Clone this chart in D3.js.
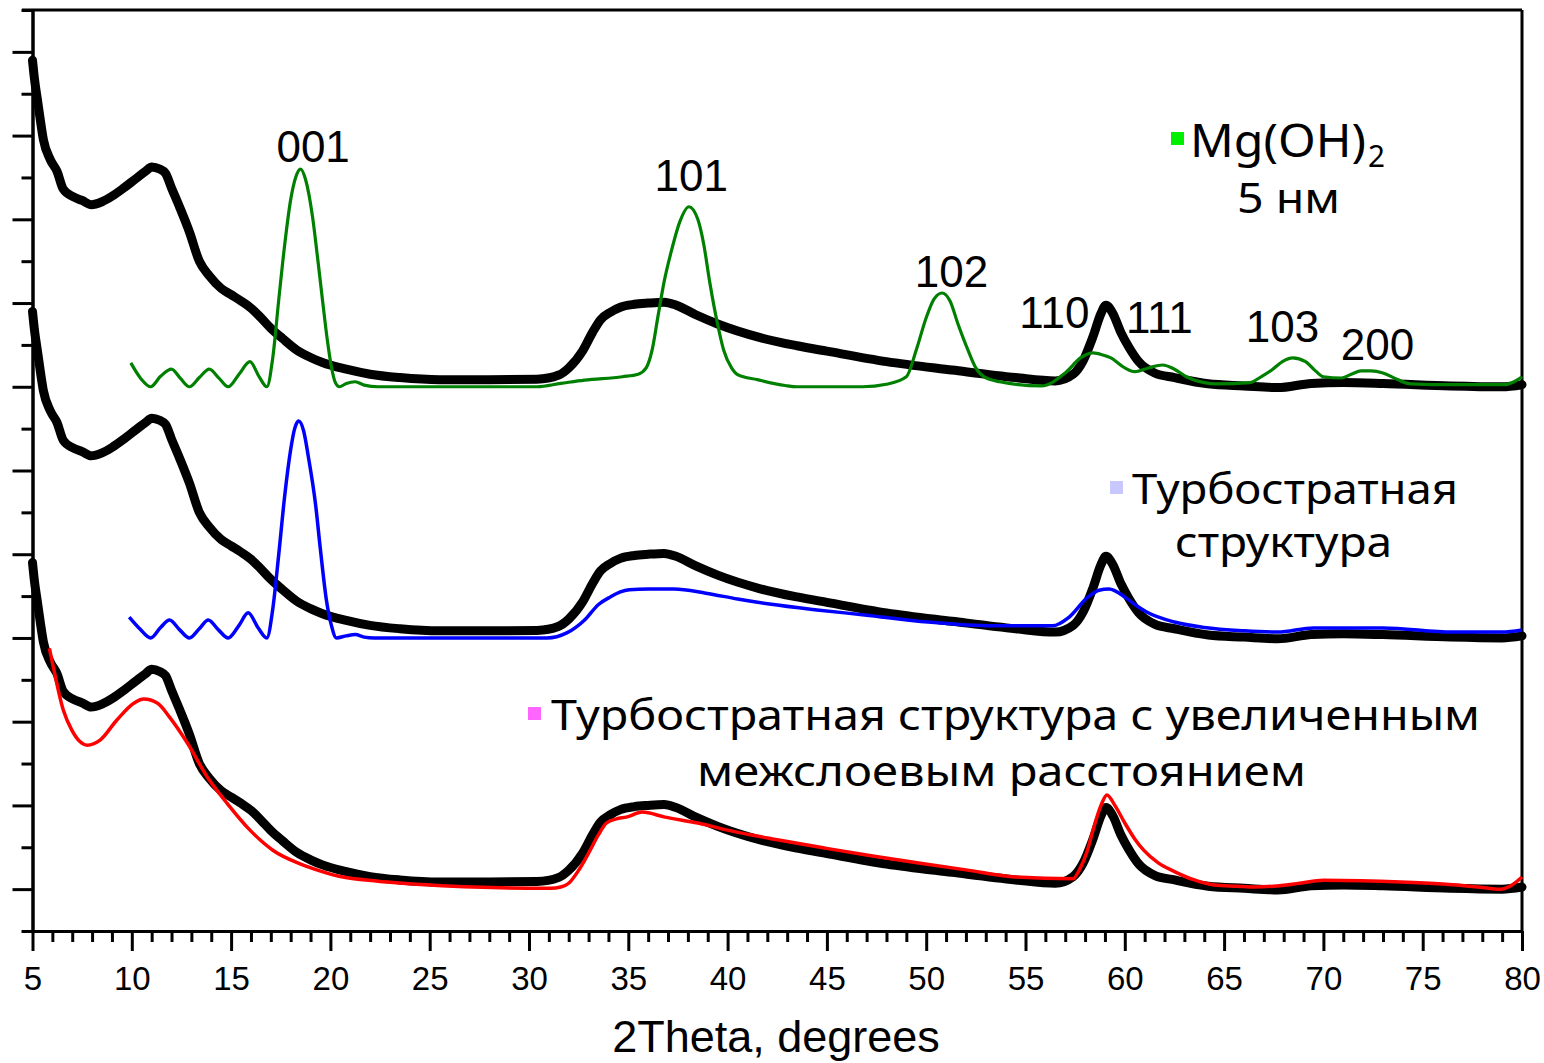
<!DOCTYPE html>
<html>
<head>
<meta charset="utf-8">
<script src="https://cdn.jsdelivr.net/npm/d3@7"></script>
<style>
  body { margin: 0; background: #fff; }
  svg { display: block; }
</style>
</head>
<body>
<svg id="chart" width="1544" height="1063"></svg>
<script>
// Measured XRD pattern: [2θ, intensity above its own baseline]
const measured = [
  [5.0,7.8],[5.1,7.35],[5.25,6.85],[5.4,6.35],[5.55,5.9],[5.9,5.42],[6.23,5.15],[6.55,4.72],
  [7.04,4.54],[7.5,4.45],[7.95,4.35],[8.5,4.42],[9.0,4.55],[9.6,4.75],[10.2,4.97],[10.7,5.15],
  [11.0,5.25],[11.4,5.2],[11.7,5.1],[12.0,4.75],[12.4,4.3],[12.9,3.7],[13.4,3.0],[13.9,2.65],
  [14.5,2.35],[15.0,2.2],[15.5,2.05],[16.0,1.88],[16.5,1.65],[17.0,1.4],[17.6,1.15],[18.3,0.88],
  [19.0,0.7],[19.6,0.58],[20.8,0.42],[22.0,0.3],[23.5,0.22],[25.5,0.17],[28.0,0.17],[30.4,0.18],
  [31.5,0.28],[32.0,0.45],[32.7,0.86],[33.2,1.3],[33.6,1.6],[34.1,1.78],[34.6,1.9],[35.3,1.97],
  [36.0,2.0],[36.8,2.02],[37.4,1.95],[38.4,1.72],[39.5,1.5],[41.6,1.18],[43.5,0.98],[45.0,0.85],
  [48.0,0.6],[51.3,0.4],[54.5,0.22],[56.5,0.14],[57.4,0.3],[57.9,0.62],[58.4,1.2],[58.8,1.75],
  [59.05,1.95],[59.4,1.75],[59.8,1.3],[60.2,0.95],[60.7,0.6],[61.5,0.33],[62.5,0.22],[64.2,0.07],
  [66.0,0.02],[67.7,-0.02],[69.4,0.08],[71.0,0.1],[73.0,0.08],[76.4,0.02],[79.0,0.0],[80.0,0.05]
];

// Vertical shifts of the three stacked patterns (bottom, middle, top)
const offsets = [0, 6, 12];

// Calculated pattern: Mg(OH)2, 5 nm crystallites (top)
const mgOH2Model = [
  [9.95,0.57],[10.45,0.2],[10.95,0.0],[11.45,0.25],[12.0,0.42],[12.45,0.2],[12.9,0.0],[13.4,0.22],
  [13.9,0.42],[14.4,0.2],[14.85,0.0],[15.4,0.3],[15.95,0.6],[16.4,0.25],[16.8,0.0],[17.1,0.7],
  [17.4,2.08],[17.7,3.4],[18.0,4.47],[18.25,5.0],[18.5,5.2],[18.75,4.95],[19.1,4.06],[19.35,3.1],
  [19.6,2.08],[19.85,1.1],[20.05,0.48],[20.25,0.1],[20.45,0.0],[20.8,0.08],[21.25,0.12],[21.7,0.04],
  [22.4,0.0],[30.4,0.0],[31.6,0.08],[32.8,0.16],[34.7,0.24],[35.5,0.3],[35.9,0.45],[36.2,0.88],
  [36.5,1.7],[36.8,2.5],[37.2,3.3],[37.6,3.95],[38.05,4.3],[38.5,4.0],[38.8,3.4],[39.1,2.5],
  [39.45,1.6],[39.8,0.88],[40.2,0.45],[40.5,0.29],[41.5,0.17],[42.9,0.03],[43.5,0.0],[46.8,0.0],
  [48.0,0.06],[49.0,0.24],[49.5,0.88],[50.0,1.65],[50.4,2.1],[50.8,2.24],[51.2,2.05],[51.6,1.5],
  [52.1,0.88],[52.5,0.45],[52.9,0.24],[53.7,0.12],[55.8,0.02],[57.0,0.33],[57.8,0.7],[58.4,0.81],
  [58.9,0.76],[59.3,0.69],[60.0,0.45],[60.5,0.36],[61.2,0.45],[61.9,0.52],[62.5,0.42],[63.1,0.24],
  [64.0,0.1],[64.6,0.07],[66.3,0.1],[66.9,0.25],[67.4,0.4],[68.0,0.62],[68.45,0.69],[69.1,0.6],
  [69.6,0.38],[70.0,0.24],[70.9,0.21],[71.4,0.3],[71.9,0.38],[72.4,0.38],[73.0,0.33],[73.7,0.18],
  [74.4,0.07],[76.5,0.05],[79.1,0.05],[79.6,0.12],[80.0,0.24]
];

// Calculated pattern: turbostratic structure (middle)
const turboModel = [
  [9.87,0.5],[10.4,0.22],[10.95,0.0],[11.45,0.25],[11.9,0.43],[12.4,0.2],[12.9,0.0],[13.4,0.22],
  [13.85,0.43],[14.35,0.2],[14.85,0.0],[15.4,0.3],[15.86,0.6],[16.35,0.25],[16.8,0.0],[17.1,0.7],
  [17.4,2.0],[17.7,3.4],[18.0,4.5],[18.2,5.0],[18.4,5.18],[18.65,4.95],[18.9,4.3],[19.25,3.2],
  [19.5,2.1],[19.8,0.9],[20.05,0.3],[20.3,0.0],[20.8,0.05],[21.25,0.08],[21.7,0.02],[22.2,0.0],
  [30.9,0.0],[31.9,0.12],[32.8,0.43],[33.5,0.8],[34.1,0.98],[34.6,1.1],[35.05,1.15],[36.0,1.17],
  [37.3,1.17],[38.9,1.07],[40.5,0.93],[42.1,0.81],[44.5,0.67],[46.9,0.55],[50.1,0.38],[53.35,0.29],
  [56.35,0.29],[57.2,0.5],[58.1,0.96],[58.7,1.14],[59.2,1.17],[60.0,0.98],[60.5,0.8],[61.1,0.62],
  [62.5,0.38],[64.0,0.25],[66.0,0.17],[67.7,0.14],[69.5,0.24],[73.0,0.24],[76.5,0.14],[79.0,0.14],
  [80.0,0.19]
];

// Calculated pattern: turbostratic structure with expanded interlayer spacing (bottom)
const turboExpandedModel = [
  [5.85,5.75],[6.05,5.3],[6.55,4.28],[6.98,3.8],[7.4,3.52],[7.75,3.44],[8.4,3.56],[9.25,4.04],
  [10.1,4.44],[10.6,4.54],[11.3,4.44],[11.9,4.11],[12.8,3.49],[13.8,2.68],[14.8,2.05],[15.95,1.41],
  [17.1,0.93],[18.5,0.6],[19.2,0.48],[20.5,0.3],[22.4,0.19],[25.0,0.1],[27.2,0.05],[31.1,0.02],
  [31.6,0.05],[32.0,0.14],[32.5,0.45],[33.0,0.86],[33.5,1.3],[33.9,1.58],[34.4,1.68],[34.9,1.72],
  [35.7,1.84],[36.85,1.72],[38.5,1.58],[40.0,1.41],[42.5,1.18],[44.9,0.98],[47.3,0.79],[49.7,0.62],
  [52.0,0.46],[54.5,0.29],[57.4,0.25],[57.7,0.45],[58.1,0.9],[58.4,1.41],[58.8,2.0],[59.1,2.25],
  [59.5,2.0],[60.0,1.58],[60.5,1.2],[60.95,0.93],[61.7,0.62],[62.5,0.42],[63.5,0.22],[64.5,0.1],
  [65.7,0.07],[66.5,0.05],[67.5,0.07],[68.8,0.14],[70.0,0.21],[73.9,0.17],[76.0,0.12],[78.0,0.04],
  [78.9,0.0],[79.5,0.1],[80.0,0.29]
];

// Reflection indices and where their labels sit (2θ, intensity)
const hklLabels = ["001", "101", "102", "110", "111", "103", "200"];
const hklAnchors = [[19.13,17.37],[38.17,16.68],[51.27,14.38],[56.45,13.4],[61.74,13.29],[67.94,13.07],[72.72,12.64]];

// Axis ticks
const xMajorTicks = d3.range(5, 81, 5);
const xMinorTicks = d3.range(5, 81, 1).filter(v => v % 5 !== 0);
const yMajorTicks = d3.range(0, 21, 2);
const yMinorTicks = d3.range(-1, 22, 2);

const xTitle = "2Theta, degrees";

const svg = d3.select("#chart");
const x = d3.scaleLinear().domain([5, 80]).range([32.5, 1522]);
const y = d3.scaleLinear().domain([-1, 21]).range([931, 10]);

const AXIS_FONT = "'Liberation Sans', Arial, sans-serif";
const LEGEND_FONT = "'Comic Sans MS', 'Noto Sans', sans-serif";

// Frame: top and right edges
svg.append("line").attr("x1", 22).attr("x2", x(80)).attr("y1", y(21)).attr("y2", y(21))
  .attr("stroke", "#000").attr("stroke-width", 3);
svg.append("line").attr("x1", x(80)).attr("x2", x(80)).attr("y1", y(21)).attr("y2", y(-1))
  .attr("stroke", "#000").attr("stroke-width", 3);

// Line generator
const line = (shift) => d3.line()
  .x(d => x(d[0]))
  .y(d => y(d[1] + shift))
  .curve(d3.curveMonotoneX);

// Measured patterns, stacked
const plot = svg.append("g");
offsets.forEach(off => {
  plot.append("path").datum(measured)
    .attr("d", line(off))
    .attr("fill", "none").attr("stroke", "#000")
    .attr("stroke-width", 9).attr("stroke-linejoin", "round").attr("stroke-linecap", "round");
});

// Calculated patterns
plot.append("path").datum(mgOH2Model).attr("d", line(offsets[2]))
  .attr("fill", "none").attr("stroke", "#008000").attr("stroke-width", 3.2);
plot.append("path").datum(turboModel).attr("d", line(offsets[1]))
  .attr("fill", "none").attr("stroke", "#0000ff").attr("stroke-width", 3.5);
plot.append("path").datum(turboExpandedModel).attr("d", line(offsets[0]))
  .attr("fill", "none").attr("stroke", "#ff0000").attr("stroke-width", 3.5);

// Axes
const styleAxis = g => {
  g.selectAll("path.domain").attr("stroke", "#000").attr("stroke-width", 3);
  g.selectAll(".tick line").attr("stroke", "#000").attr("stroke-width", 3);
};

svg.append("g").attr("transform", `translate(0,${y(-1)})`)
  .call(d3.axisBottom(x).tickValues(xMinorTicks).tickSize(11).tickSizeOuter(0).tickFormat(""))
  .call(styleAxis);
svg.append("g").attr("transform", `translate(0,${y(-1)})`)
  .call(d3.axisBottom(x).tickValues(xMajorTicks).tickSize(20).tickSizeOuter(0).tickPadding(16).tickFormat(d3.format("d")))
  .call(styleAxis)
  .call(g => g.selectAll(".tick text").attr("font-family", AXIS_FONT).attr("font-size", 33).attr("fill", "#000"));

svg.append("g").attr("transform", `translate(${x(5)},0)`)
  .call(d3.axisLeft(y).tickValues(yMinorTicks).tickSize(11).tickSizeOuter(0).tickFormat(""))
  .call(styleAxis);
svg.append("g").attr("transform", `translate(${x(5)},0)`)
  .call(d3.axisLeft(y).tickValues(yMajorTicks).tickSize(20).tickSizeOuter(0).tickFormat(""))
  .call(styleAxis);

// Axis title
svg.append("text").attr("x", 776).attr("y", 1052).attr("text-anchor", "middle")
  .attr("font-family", AXIS_FONT).attr("font-size", 45).attr("fill", "#000")
  .text(xTitle);

// Reflection labels
svg.append("g").selectAll("text").data(hklLabels).join("text")
  .attr("x", (d, i) => x(hklAnchors[i][0]))
  .attr("y", (d, i) => y(hklAnchors[i][1]))
  .attr("text-anchor", "middle")
  .attr("font-family", AXIS_FONT).attr("font-size", 44).attr("fill", "#000")
  .text(d => d);

// Legend entries
const legend = svg.append("g").attr("font-family", LEGEND_FONT).attr("fill", "#000");

function swatch(color, x0, y0) {
  legend.append("rect").attr("x", x0).attr("y", y0).attr("width", 13).attr("height", 13).attr("fill", color);
}
function label(str, x0, y0, size, width) {
  legend.append("text").attr("x", x0).attr("y", y0).attr("font-size", size)
    .attr("textLength", width).attr("lengthAdjust", "spacingAndGlyphs").text(str);
}

swatch("#00ee00", 1171, 132);
label("Mg(OH)", 1190, 157, 46, 176);
label("2", 1368, 167, 30, 17);
label("5 нм", 1237, 213, 42, 103);

swatch("#c8c8ff", 1110, 481);
label("Турбостратная", 1132, 504, 42, 326);
label("структура", 1175, 557, 42, 217);

swatch("#ff66ff", 528, 707);
label("Турбостратная структура с увеличенным", 551, 730, 42, 929);
label("межслоевым расстоянием", 697, 786, 42, 609);
</script>
</body>
</html>
